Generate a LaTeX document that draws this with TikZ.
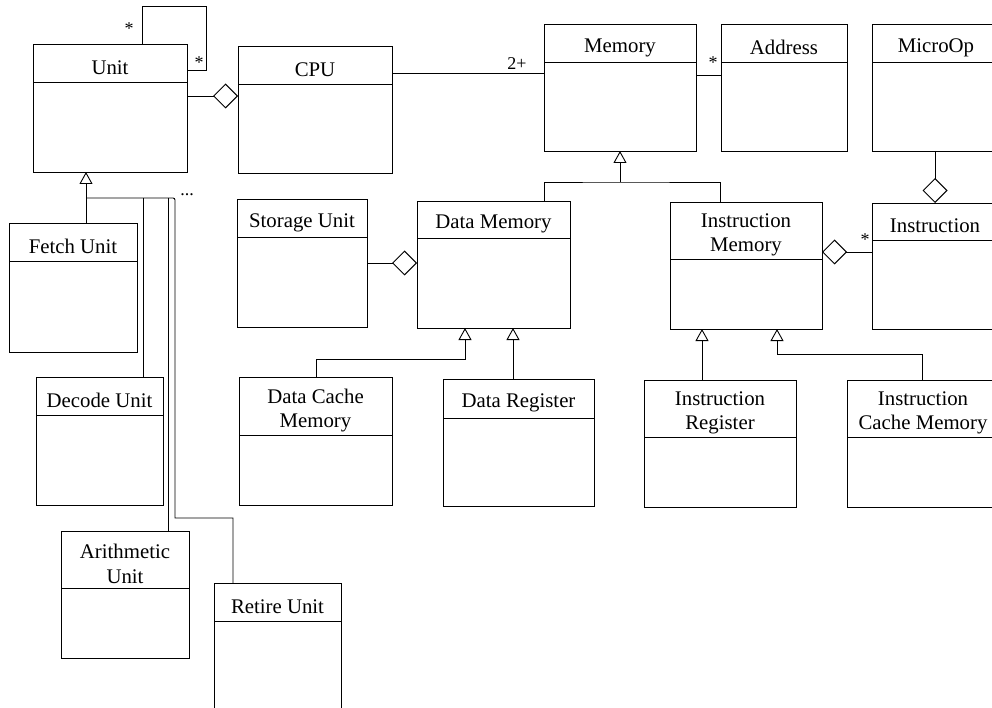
\documentclass[tikz,border=0pt]{standalone}
\usepackage{fontspec}
\setmainfont{Liberation Serif}
\usetikzlibrary{arrows.meta}

% class box: name, left, top, right, bottom, divider, title
\newcommand{\umlclass}[7]{%
  \node[classbox, minimum width={(#4-#2)*1pt}, minimum height={(#5-#3)*1pt}] (#1) at (#2,#3) {};
  \draw (#1.west |- 0,#6) -- (#1.east |- 0,#6);
  \node[classname] (#1-name) at (#1.north |- 0,{(#3+#6)/2+4.5}) {#7};
}

\begin{document}
\begin{tikzpicture}[x=1pt, y=-1pt, line width=0.9pt,
    classbox/.style={draw, anchor=north west, inner sep=0pt, outer sep=0pt},
    classname/.style={align=center, inner sep=0pt, font=\fontsize{20.8}{24.5}\selectfont},
    mult/.style={inner sep=0pt, font=\fontsize{18}{20}\selectfont},
    gen/.style={-{Triangle[open, length=12pt, width=13pt]}},
    aggr/.style={-{Diamond[open, length=25pt, width=25pt]}}]
    \useasboundingbox (0,0) rectangle (992,708);
    \clip (0,0) rectangle (992,708);

    % Units
    \umlclass{unit}{33}{44}{187}{172}{82}{Unit}
    \umlclass{fetch}{9}{223}{137}{352}{261}{Fetch Unit}
    \umlclass{decode}{36}{377}{163}{505}{415}{Decode Unit}
    \umlclass{arith}{61}{531}{189}{658}{588}{Arithmetic\\Unit}
    \umlclass{retire}{214}{583}{341}{720}{621}{Retire Unit}

    % CPU and memories
    \umlclass{cpu}{238}{46}{392}{173}{84}{CPU}
    \umlclass{memory}{544}{24}{696}{151}{62}{Memory}
    \umlclass{address}{721}{24}{847}{151}{62}{Address}
    \umlclass{microop}{872}{24}{1000}{151}{62}{MicroOp}
    \umlclass{storage}{237}{199}{367}{327}{237}{Storage Unit}
    \umlclass{datamem}{417}{201}{570}{328}{238}{Data Memory}
    \umlclass{instrmem}{670}{202}{822}{329}{259}{Instruction\\Memory}
    \umlclass{instruction}{872}{203}{998}{329}{240}{Instruction}
    \umlclass{datacache}{239}{377}{392}{505}{435}{Data Cache\\Memory}
    \umlclass{datareg}{443}{379}{594}{506}{418}{Data Register}
    \umlclass{instrreg}{644}{380}{796}{507}{437}{Instruction\\Register}
    \umlclass{icache}{847}{380}{999}{507}{437}{Instruction\\Cache Memory}

    % Unit self association
    \draw (unit.north -| 142,0) |- (206,6) |- (unit.east |- 0,70);
    \node[mult] at (129,29) {*};
    \node[mult] at (199,63) {*};

    % Unit subclasses
    \coordinate (unitjoin) at (86,198);
    \draw[gen] (fetch.north -| unitjoin) -- (unit.south -| unitjoin);
    \draw (unitjoin) [rounded corners=2pt] -- (175,198) [sharp corners] -- (175,518) -- (233,518) -- (retire.north -| 233,0);
    \draw (143,198) -- (decode.north -| 143,0);
    \draw (168,198) -- (arith.north -| 168,0);
    \node[mult] at (187,195) {...};

    % Associations
    \draw[aggr] (unit.east |- 0,96) -- (cpu.west |- 0,96);
    \draw (cpu.east |- 0,73) -- (memory.west |- 0,73);
    \node[mult] at (517,64) {2+};
    \draw (memory.east |- 0,75) -- (address.west |- 0,75);
    \node[mult] at (713,63) {*};
    \draw[aggr] (microop.south -| 935,0) -- (instruction.north -| 935,0);
    \draw[aggr] (storage.east |- 0,263) -- (datamem.west |- 0,263);
    \draw[aggr] (instruction.west |- 0,252) -- (instrmem.east |- 0,252);
    \node[mult] at (865,240) {*};

    % Memory subclasses
    \coordinate (memjoin) at (620,182);
    \draw (datamem.north -| 544,0) |- (memjoin) -| (instrmem.north -| 720,0);
    \draw[gen] (memjoin) -- (memory.south);
    \draw[gen] (datacache.north -| 316,0) |- (465,359) -- (datamem.south -| 465,0);
    \draw[gen] (datareg.north -| 513,0) -- (datamem.south -| 513,0);
    \draw[gen] (instrreg.north -| 702,0) -- (instrmem.south -| 702,0);
    \draw[gen] (icache.north -| 922,0) |- (777,354) -- (instrmem.south -| 777,0);
\end{tikzpicture}
\end{document}
